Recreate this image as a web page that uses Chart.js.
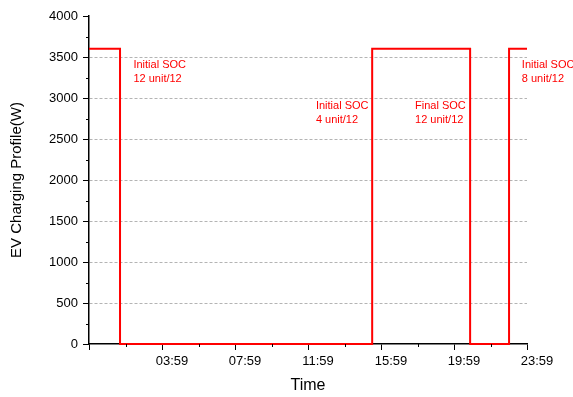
<!DOCTYPE html>
<html>
<head>
<meta charset="utf-8">
<title>EV Charging Profile</title>
<script src="https://cdn.jsdelivr.net/npm/chart.js@4.4.0/dist/chart.umd.min.js"></script>
<style>
    html, body { margin: 0; padding: 0; background: #fff; }
    #chart { display: block; }
</style>
</head>
<body>
<canvas id="chart" width="573" height="397"></canvas>
<script>
// time in minutes from 00:00, power in W (stepped profile)
const timeMinutes = [-1, 101, 930, 1252, 1380, 1439];
const chargingPower = [3600, 0, 3600, 0, 3600, 3600];

const xTickValues = [-1, 239, 479, 719, 959, 1199, 1439];
const xMinorTicks = [119, 359, 599, 839, 1079, 1319];
const yMinorTicks = [250, 750, 1250, 1750, 2250, 2750, 3250, 3750];

const annotations = [
    { x: 145, y: 3400, lines: ['Initial SOC', '12 unit/12'] },
    { x: 745, y: 2900, lines: ['Initial SOC', '4 unit/12'] },
    { x: 1071, y: 2900, lines: ['Final SOC', '12 unit/12'] },
    { x: 1422, y: 3400, lines: ['Initial SOC', '8 unit/12'] }
];

const FONT = "Arial, 'Liberation Sans', sans-serif";

function fmtTime(m) {
    if (m < 0) return '';
    const h = Math.floor(m / 60);
    const mm = m % 60;
    return String(h).padStart(2, '0') + ':' + String(mm).padStart(2, '0');
}

// minor ticks drawn from the scales
const minorTicksPlugin = {
    id: 'minorTicks',
    afterDraw(chart) {
        const { ctx, scales: { x, y }, chartArea } = chart;
        ctx.save();
        ctx.strokeStyle = '#000';
        ctx.lineWidth = 1;
        ctx.beginPath();
        yMinorTicks.forEach(v => {
            const py = Math.round(y.getPixelForValue(v)) + 0.5;
            ctx.moveTo(chartArea.left - 3, py);
            ctx.lineTo(chartArea.left, py);
        });
        xMinorTicks.forEach(v => {
            const px = Math.round(x.getPixelForValue(v)) + 0.5;
            ctx.moveTo(px, chartArea.bottom);
            ctx.lineTo(px, chartArea.bottom + 3);
        });
        ctx.stroke();
        ctx.restore();
    }
};

// SOC text labels
const socLabelsPlugin = {
    id: 'socLabels',
    afterDatasetsDraw(chart) {
        const { ctx, scales: { x, y } } = chart;
        ctx.save();
        ctx.fillStyle = '#ff0000';
        ctx.font = '11px ' + FONT;
        ctx.textAlign = 'left';
        ctx.textBaseline = 'middle';
        annotations.forEach(a => {
            const px = x.getPixelForValue(a.x);
            const py = y.getPixelForValue(a.y);
            a.lines.forEach((line, i) => ctx.fillText(line, px, py + i * 13.5));
        });
        ctx.restore();
    }
};

const ctx = document.getElementById('chart').getContext('2d');
new Chart(ctx, {
    type: 'line',
    data: {
        datasets: [{
            data: timeMinutes.map((t, i) => ({ x: t, y: chargingPower[i] })),
            stepped: true,
            borderColor: '#ff0000',
            borderWidth: 2,
            pointRadius: 0,
            fill: false,
            clip: 4
        }]
    },
    options: {
        responsive: false,
        animation: false,
        layout: { padding: { left: 0, right: 46, top: 16, bottom: 0 } },
        plugins: {
            legend: { display: false },
            tooltip: { enabled: false }
        },
        scales: {
            x: {
                type: 'linear',
                min: -1,
                max: 1439,
                afterBuildTicks(scale) {
                    scale.ticks = xTickValues.map(v => ({ value: v }));
                },
                afterFit(scale) { scale.height = 53; },
                ticks: {
                    autoSkip: false,
                    maxRotation: 0,
                    labelOffset: 10,
                    padding: 4,
                    color: '#000',
                    font: { family: FONT, size: 13 },
                    callback: v => fmtTime(v)
                },
                grid: {
                    drawOnChartArea: false,
                    tickLength: 6,
                    tickColor: '#000',
                    tickWidth: 1
                },
                border: { color: '#000', width: 1.5 },
                title: {
                    display: true,
                    text: 'Time',
                    color: '#000',
                    font: { family: FONT, size: 16 },
                    padding: { top: 0, bottom: 2 }
                }
            },
            y: {
                min: 0,
                max: 4000,
                afterFit(scale) { scale.width = 89; },
                ticks: {
                    stepSize: 500,
                    padding: 5,
                    color: '#000',
                    font: { family: FONT, size: 13 },
                    callback: v => String(v)
                },
                grid: {
                    color: c => (c.tick && c.tick.value > 0 && c.tick.value < 4000) ? '#b4b4b4' : 'rgba(0,0,0,0)',
                    lineWidth: 1,
                    tickLength: 6,
                    tickColor: '#000',
                    tickWidth: 1
                },
                border: { color: '#000', width: 1.5, dash: [3, 2] },
                title: {
                    display: true,
                    text: 'EV Charging Profile(W)',
                    color: '#000',
                    font: { family: FONT, size: 15 },
                    padding: { top: 8, bottom: 0 }
                }
            }
        }
    },
    plugins: [minorTicksPlugin, socLabelsPlugin]
});
</script>
</body>
</html>
